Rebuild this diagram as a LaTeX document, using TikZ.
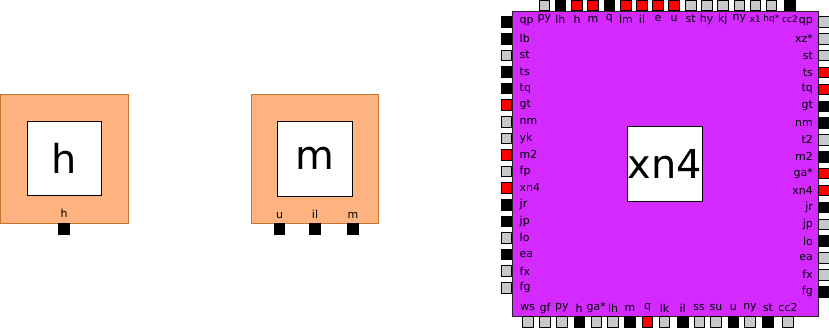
\documentclass[tikz,border=0pt]{standalone}
\usepackage{fontspec}
\setmainfont{DejaVu Sans}
\usetikzlibrary{positioning}
\definecolor{blkfill}{HTML}{FFB380}
\definecolor{blkline}{HTML}{C8742E}
\definecolor{chipfill}{HTML}{D42AFF}
\definecolor{pingray}{HTML}{C8C8C8}
\newcommand\lblfont{\fontsize{11}{12}\selectfont}
\newcommand\sm{\fontsize{9}{10}\selectfont}
\newcommand\bigfont{\fontsize{40}{40}\selectfont}

\begin{document}
\begin{tikzpicture}[x=1bp,y=1bp,
    blk/.style={draw=blkline,fill=blkfill,line width=0.8pt,inner sep=0pt,
                minimum height=129bp},
    chip/.style={draw=black!85,fill=chipfill,line width=0.8pt,inner sep=0pt,
                 minimum width=306bp,minimum height=305bp},
    core/.style={draw=black,fill=white,line width=1pt,inner sep=0pt,
                 minimum size=75bp,font=\bigfont},
    pin/.style={draw=black,line width=0.6pt,inner sep=0pt,minimum size=10.5bp},
    pblk/.style={pin,fill=black},
    pgry/.style={pin,fill=pingray},
    pred/.style={pin,fill=red},
    lbl/.style={inner sep=0pt,font=\lblfont}]
    \useasboundingbox (0,0) rectangle (829,328);
    % block h
    \node[blk,minimum width=128bp] (h) at (64,169.5) {};
    \node[core,minimum size=74bp] (hc) at (h.center) {h};
    \node[pblk,anchor=north] (hp) at (h.south) {};
    \node[lbl,anchor=base] (hl) at ([yshift=5.5bp]hp.north) {h};
    % block m
    \node[blk,minimum width=127bp] (m) at (314.5,169.5) {};
    \node[core] (mc) at (m.center) {m};
    \node[pblk,anchor=north] (mp1) at ([xshift=-35bp]m.south) {};
    \node[pblk,anchor=north] (mp2) at ([xshift=0.5bp]m.south) {};
    \node[pblk,anchor=north] (mp3) at ([xshift=38.5bp]m.south) {};
    \node[lbl,anchor=base] (ml1) at ([yshift=5bp]mp1.north) {u};
    \node[lbl,anchor=base] (ml2) at ([yshift=5bp]mp2.north) {il};
    \node[lbl,anchor=base] (ml3) at ([yshift=5bp]mp3.north) {m};
    % block xn4
    \node[chip] (x) at (665,164.5) {};
    \node[core] (xc) at (x.center) {xn4};
    \foreach \t/\c [count=\i from 0] in {qp/pblk,lb/pblk,st/pgry,ts/pblk,tq/pblk,
        gt/pred,nm/pgry,yk/pgry,m2/pred,fp/pgry,xn4/pred,jr/pblk,jp/pblk,lo/pgry,
        ea/pblk,fx/pgry,fg/pgry}
      {\node[\c,anchor=east] (l\i) at (512,{306-16.6*\i}) {};
       \node[lbl,anchor=west] (ll\i) at ([xshift=7.5bp]l\i.east) {\t};}
    \foreach \t/\c [count=\i from 0] in {qp/pgry,xz*/pgry,st/pgry,ts/pred,tq/pred,
        gt/pblk,nm/pblk,t2/pgry,m2/pblk,ga*/pred,xn4/pred,jr/pblk,jp/pgry,lo/pblk,
        ea/pgry,fx/pgry,fg/pblk}
      {\node[\c,anchor=west] (r\i) at (818,{306.2-16.86*\i}) {};
       \node[lbl,anchor=east] (rl\i) at ([xshift=-5bp]r\i.west) {\t};}
    \foreach \t/\c/\px [count=\i from 0] in {py/pgry/544.4,lh/pblk/560.3,h/pred/577,
        m/pred/593,q/pblk/609.3,lm/pred/626,il/pred/642,e/pred/658,u/pred/674,
        st/pgry/690.7,hy/pgry/706.7,kj/pgry/722.7,ny/pgry/739.3,{\sm x1}/pgry/755.3,
        {\sm hq*}/pgry/771.3,{\sm cc2}/pblk/790}
      {\node[\c,anchor=south] (t\i) at (\px,317) {};
       \node[lbl] (tl\i) at ([yshift=-8bp]t\i.south) {\t};}
    \foreach \t/\c/\px [count=\i from 0] in {ws/pgry/527.8,gf/pgry/545,py/pgry/561.8,
        h/pblk/579.2,ga*/pgry/596.3,lh/pgry/613,m/pblk/630,q/pred/647.5,lk/pgry/664.5,
        il/pblk/682.7,ss/pgry/699.2,su/pgry/716,u/pblk/733.3,ny/pgry/750,
        st/pblk/768,cc2/pgry/788}
      {\node[\c,anchor=north] (b\i) at (\px,12) {};
       \node[lbl] (bl\i) at ([yshift=8bp]b\i.north) {\t};}
  \end{tikzpicture}
\end{document}
